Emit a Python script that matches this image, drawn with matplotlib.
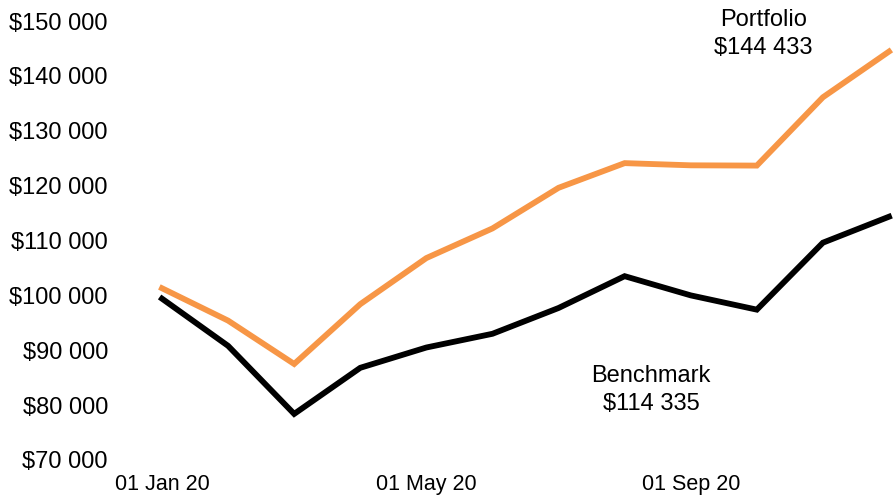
import matplotlib
matplotlib.use("Agg")
import matplotlib.pyplot as plt
from matplotlib.ticker import FuncFormatter, FixedLocator

plt.rcParams['font.family'] = ['Liberation Sans', 'DejaVu Sans']

months = ["Jan", "Feb", "Mar", "Apr", "May", "Jun", "Jul", "Aug", "Sep", "Oct", "Nov", "Dec"]
portfolio = [101300, 95400, 87500, 98400, 106800, 112200, 119600, 124100, 123700, 123650, 136100, 144433]
benchmark = [99400, 90800, 78400, 86800, 90500, 93000, 97700, 103500, 100000, 97400, 109600, 114335]
xtick_labels = ["01 Jan 20", "01 May 20", "01 Sep 20"]
xtick_months = ["Jan", "May", "Sep"]
yticks = [70000, 80000, 90000, 100000, 110000, 120000, 130000, 140000, 150000]

fig = plt.figure(figsize=(8.94, 4.97), dpi=100)
ax = fig.add_axes([162/894, 1-460/497, (889-162)/894, (460-21)/497])

x = list(range(len(months)))
ax.plot(x, portfolio, color="#F79646", lw=4.2, solid_joinstyle="miter", clip_on=False)
ax.plot(x, benchmark, color="black", lw=4.2, solid_joinstyle="miter", clip_on=False)

ax.set_xlim(0, len(months) - 1)
ax.set_ylim(70000, 150000)
ax.yaxis.set_major_locator(FixedLocator(yticks))
ax.yaxis.set_major_formatter(FuncFormatter(lambda v, p: "$" + f"{int(v):,}".replace(",", " ")))
ax.set_xticks([months.index(m) for m in xtick_months])
ax.set_xticklabels(xtick_labels)

for s in ax.spines.values():
    s.set_visible(False)
ax.tick_params(axis="both", length=0, colors="black")
ax.tick_params(axis="y", pad=38.9, labelsize=17)
ax.tick_params(axis="x", pad=10, labelsize=15.5)

ax.text(9.1, 147650, "Portfolio\n$" + f"{portfolio[-1]:,}".replace(",", " "),
        ha="center", va="center", fontsize=17, linespacing=1.38)
ax.text(7.4, 82800, "Benchmark\n$" + f"{benchmark[-1]:,}".replace(",", " "),
        ha="center", va="center", fontsize=17, linespacing=1.38)

fig.savefig("out.png", dpi=100)
